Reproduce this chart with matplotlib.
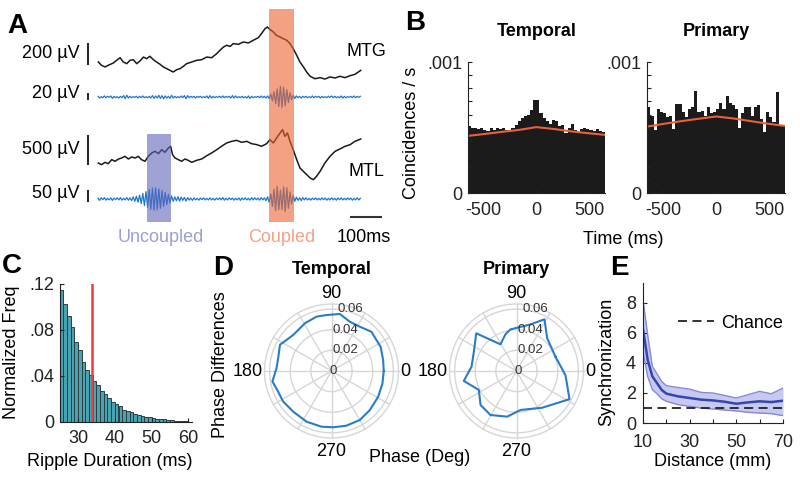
import numpy as np
import matplotlib
matplotlib.use("Agg")
import matplotlib.pyplot as plt
from matplotlib.patches import Rectangle

plt.rcParams['font.family'] = ['Liberation Sans', 'DejaVu Sans']
FS = 13

# ---------------- data ----------------
# Panel A: broadband traces (time in ms, amplitude in µV)
mtg_t = [1, 11, 22, 32, 48, 58, 69, 79, 90, 100, 110, 121, 131, 142, 152, 162, 173, 183, 194, 204,
         215, 225, 235, 246, 256, 267, 277, 293, 308, 324, 340, 355, 371, 381, 392, 402, 413, 423, 439, 454,
         470, 485, 501, 511, 522, 529, 538, 548, 558, 569, 579, 590, 600, 610, 621, 631, 642, 652, 663, 678,
         694, 709, 725, 741, 756, 772, 788, 803, 821]
mtg_uv = [0, -30, -45, -30, -9, 15, 39, 0, -15, 15, 21, -15, 9, 45, 30, 52, 21, 0, -21, -45,
          -61, -76, -91, -70, -61, -39, -15, 0, 15, 21, 45, 39, 76, 106, 136, 152, 142, 167, 161, 182,
          173, 197, 221, 258, 303, 318, 294, 273, 242, 227, 212, 197, 167, 121, 61, 0, -45, -91, -130, -152,
          -142, -155, -136, -145, -130, -142, -124, -112, -76]
mtl_t = [1, 11, 22, 32, 43, 53, 64, 74, 84, 95, 105, 116, 126, 136, 147, 157, 168, 178, 189, 199,
         209, 220, 227, 233, 241, 251, 261, 272, 282, 293, 308, 324, 340, 355, 371, 386, 402, 418, 433, 449,
         465, 480, 496, 511, 527, 537, 548, 558, 569, 577, 584, 592, 600, 610, 621, 631, 647, 663, 673, 683,
         694, 709, 725, 741, 756, 772, 788, 803, 821]
mtl_uv = [0, -28, 11, -11, 56, 28, 67, 83, 111, 67, 100, 83, 111, 56, 28, 111, 167, 195, 156, 222,
          178, 250, 278, 139, 83, 56, 28, 67, 44, 11, 44, 67, 122, 167, 222, 278, 334, 361, 378, 345,
          361, 322, 306, 278, 322, 389, 334, 417, 500, 556, 445, 500, 361, 222, 56, -83, -167, -250, -278, -222,
          -139, 0, 111, 195, 234, 278, 306, 361, 400]
# ripple-band traces, one sample every 5 ms
ripple_t = np.arange(0, 825, 5)
mtg_ripple_uv = [2, -3, 1, -2, 3, -2, 2, -1, 3, -4, 2, -2, 1, -3, 2, -2, 4, -5, 5, -3,
                 2, -2, 1, -1, 2, -3, 2, -2, 3, -2, 1, -2, 2, -3, 4, -4, 3, -3, 5, -4,
                 4, -5, 3, -3, 2, -4, 5, -3, 2, -2, 1, -2, 3, -2, 4, -5, 4, -2, 2, -1,
                 2, -3, 2, -1, 2, -2, 1, -2, 3, -4, 4, -3, 2, -2, 1, -1, 2, -2, 3, -2,
                 2, -1, 2, -3, 4, -3, 3, -2, 1, -2, 2, -2, 1, -3, 3, -4, 2, -2, 1, -1,
                 2, -2, 3, -2, 2, -3, 3,
                 -5, 8, -11, 15, -19, 23, -27, 30, -30, 28, -25, 21, -16, 12, -8, 5,
                 -4, 3, -2, 2, -3, 2, -1,
                 2, -2, 1, -2, 3, -2, 2, -1, 2, -3, 2, -2, 1, -2, 2, -1, 3, -2, 2, -2,
                 1, -2, 3, -3, 2, -2, 1, -1, 2, -2, 3, -2, 2, -1, 2]
mtl_ripple_uv = [4, -6, 5, -3, 6, -5, 3, -4, 5, -6, 4, -3, 5, -4, 6, -5, 3, -4, 6, -5,
                 5, -7, 9, -10, 12, -14, 17, -20, 24, -28, 32, -36, 40, -44, 47, -48, 48, -46, 43, -40,
                 36, -32, 28, -24, 20, -16, 13, -10, 9, -8,
                 10, -9, 8, -6, 7, -9, 6, -5, 4, -6, 5, -4, 3, -5, 4, -3, 5, -4, 3, -4,
                 5, -4, 3, -5, 4, -3, 5, -4, 6, -5, 3, -4, 5, -3, 4, -5, 3, -4, 5, -6,
                 4, -3, 5, -4, 3, -5, 6, -4, 5, -3,
                 4, -5, 6, -4, 5, -7, 9, -14, 22, -32, 42, -50, 54, -46, 38, -45, 52, -54, 48, -40,
                 30, -22, 15, -10, 8, -6, 5, -7, 6, -4,
                 5, -4, 3, -5, 4, -3, 5, -4, 3, -4, 5, -3, 4, -5, 3, -4, 5, -4, 3, -5,
                 4, -3, 5, -4, 3, -4, 5, -3, 4, -5, 3, -4, 5, -4, 3]
coupled_win = (535, 612)
uncoupled_win = (152, 228)

# Panel B: cross-correlograms (coincidences / s, x 1e-3), 44 bins over +-650 ms
ccg_edges = np.linspace(-650, 650, 45)
temporal_rate = [0.514, 0.496, 0.500, 0.488, 0.496, 0.483, 0.478, 0.496, 0.483, 0.500, 0.488, 0.500,
                 0.483, 0.470, 0.496, 0.520, 0.547, 0.572, 0.585, 0.598, 0.636, 0.712, 0.712, 0.610,
                 0.572, 0.547, 0.529, 0.560, 0.547, 0.514, 0.520, 0.462, 0.496, 0.529, 0.483, 0.470,
                 0.488, 0.496, 0.488, 0.483, 0.478, 0.488, 0.478, 0.470]
primary_rate = [0.660, 0.590, 0.480, 0.640, 0.620, 0.610, 0.580, 0.590, 0.490, 0.680, 0.680, 0.620,
                0.580, 0.645, 0.660, 0.780, 0.620, 0.630, 0.590, 0.660, 0.610, 0.620, 0.640, 0.690,
                0.645, 0.740, 0.690, 0.670, 0.645, 0.500, 0.610, 0.660, 0.660, 0.590, 0.660, 0.670,
                0.565, 0.465, 0.620, 0.580, 0.540, 0.770, 0.510, 0.510]
shuffle_t = [-650, -487.5, -325, -162.5, 0, 162.5, 325, 487.5, 650]
temporal_shuffle = [0.437, 0.452, 0.468, 0.483, 0.504, 0.490, 0.472, 0.458, 0.445]
primary_shuffle = [0.508, 0.530, 0.550, 0.568, 0.585, 0.570, 0.550, 0.530, 0.513]

# Panel C: ripple-duration histogram (1-ms bins starting at 25 ms)
dur_left = np.arange(25, 60)
dur_freq = [0.115, 0.1028, 0.0923, 0.0824, 0.0699, 0.0624, 0.0519, 0.0452, 0.0408, 0.0356,
            0.032, 0.0268, 0.024, 0.021, 0.0175, 0.016, 0.0137, 0.0108, 0.010, 0.0087,
            0.0073, 0.006, 0.0054, 0.0045, 0.004, 0.0035, 0.003, 0.0024, 0.0022, 0.002,
            0.0015, 0.0013, 0.0012, 0.001, 0.001]
dur_cut = 33.9

# Panel D: phase-difference distributions
temporal_phase = [0, 12, 26, 44.5, 57.4, 69.6, 81.7, 95, 105.4, 119, 136.8, 153, 166.6, 177, 190,
                  201, 212, 226.7, 244, 259.8, 271.7, 285, 300, 314.5, 331, 346]
temporal_prob = [0.0507, 0.0512, 0.0531, 0.0543, 0.051, 0.051, 0.0559, 0.0545, 0.0547, 0.053, 0.051,
                 0.0561, 0.0532, 0.0534, 0.0582, 0.0555, 0.0555, 0.0542, 0.0548, 0.0549, 0.0546,
                 0.055, 0.0549, 0.0531, 0.0517, 0.0509]
primary_phase = [20, 46.8, 61.6, 73.3, 98.2, 106.7, 121, 136.9, 155.7, 174.5, 190.7, 206.7, 223.4,
                 239.4, 258.5, 275.9, 305, 332, 344.5, 355]
primary_prob = [0.0403, 0.0435, 0.0570, 0.0472, 0.0408, 0.0372, 0.0302, 0.0535, 0.0454, 0.0438,
                0.052, 0.0409, 0.048, 0.0496, 0.0452, 0.038, 0.0435, 0.0582, 0.051, 0.0477]

# Panel E: synchronization vs distance
dist_mm = [10, 12, 14, 16, 18, 20, 25, 30, 35, 40, 45, 50, 55, 60, 65, 70]
sync_mean = [6.23, 4.2, 3.1, 2.65, 2.2, 1.95, 1.77, 1.66, 1.55, 1.5, 1.41, 1.28, 1.37, 1.44, 1.39, 1.48]
sync_hi = [8.18, 5.86, 3.76, 3.27, 2.76, 2.48, 2.36, 2.25, 2.03, 1.99, 1.83, 1.66, 1.88, 2.1, 1.94, 2.32]
sync_lo = [4.75, 3.09, 2.21, 1.94, 1.61, 1.44, 1.22, 1.1, 0.99, 0.93, 0.86, 0.8, 0.71, 0.66, 0.62, 0.49]
chance_level = 1.0

# ---------------- figure ----------------
W, H = 800, 479
fig = plt.figure(figsize=(8, 4.79), dpi=100)


def add_px(x0, y0, x1, y1, **kw):
    return fig.add_axes([x0 / W, 1 - y1 / H, (x1 - x0) / W, (y1 - y0) / H], **kw)


def ftext(x, y, s, **kw):
    kw.setdefault('fontsize', FS)
    return fig.text(x / W, 1 - y / H, s, **kw)


def letter(x, y, s):
    ftext(x, y, s, fontsize=20, fontweight='bold', va='baseline', ha='left')


def style_axes(ax):
    for side in ('top', 'right'):
        ax.spines[side].set_visible(False)
    for side in ('left', 'bottom'):
        ax.spines[side].set_linewidth(0.8)
        ax.spines[side].set_color('#222222')
    ax.tick_params(direction='in', length=3, width=0.8, labelsize=FS, colors='#222222', pad=4)


# ---- Panel A ----
axA = add_px(0, 0, 400, 250)
axA.set_xlim((0 - 98) / 0.32, (400 - 98) / 0.32)
axA.set_ylim(250, 0)
axA.set_axis_off()
black = '#1a1a1a'
blue = '#1f78cc'
g_mtg, g_mtg_r, g_mtl, g_mtl_r = 0.11, 0.35, 0.06, 0.233
off_mtg, off_mtg_r, off_mtl, off_mtl_r = 62, 97, 163, 199
axA.plot(mtg_t, off_mtg - np.array(mtg_uv) * g_mtg, color=black, lw=1.1)
axA.plot(ripple_t, off_mtg_r - np.array(mtg_ripple_uv) * g_mtg_r, color=blue, lw=0.9)
axA.plot(mtl_t, off_mtl - np.array(mtl_uv) * g_mtl, color=black, lw=1.1)
axA.plot(ripple_t, off_mtl_r - np.array(mtl_ripple_uv) * g_mtl_r, color=blue, lw=0.9)
axA.add_patch(Rectangle((coupled_win[0], 9), coupled_win[1] - coupled_win[0], 213,
                        facecolor='#ed6130', alpha=0.6, edgecolor='none', zorder=3))
axA.add_patch(Rectangle((uncoupled_win[0], 134), uncoupled_win[1] - uncoupled_win[0], 88,
                        facecolor='#6164bb', alpha=0.6, edgecolor='none', zorder=3))
bar_t = (88 - 98) / 0.32
for cy, val, g in [(54, 200, g_mtg), (96.5, 20, g_mtg_r), (150, 500, g_mtl), (196, 50, g_mtl_r)]:
    axA.plot([bar_t, bar_t], [cy - val * g / 2, cy + val * g / 2], color='#222222', lw=1.4,
             solid_capstyle='butt')
axA.plot([787.5, 887.5], [217, 217], color='#333333', lw=1.5, solid_capstyle='butt')
ftext(80, 54, '200 µV', ha='right', va='center')
ftext(80, 94, '20 µV', ha='right', va='center')
ftext(80, 149, '500 µV', ha='right', va='center')
ftext(80, 194, '50 µV', ha='right', va='center')
ftext(347, 52, 'MTG', ha='left', va='center')
ftext(348, 172, 'MTL', ha='left', va='center')
ftext(161, 237, 'Uncoupled', ha='center', va='center', color='#9c9ed8')
ftext(282, 237, 'Coupled', ha='center', va='center', color='#f4a184')
ftext(364, 237, '100ms', ha='center', va='center')
letter(7, 33, 'A')

# ---- Panel B ----
for (x0, x1, rate, shuf, title) in [(467.7, 605, temporal_rate, temporal_shuffle, 'Temporal'),
                                    (647.3, 785, primary_rate, primary_shuffle, 'Primary')]:
    ax = add_px(x0, 62, x1, 193.3)
    ax.stairs(np.array(rate) * 1e-3, ccg_edges, fill=True, color='#1b1b1b', lw=0)
    ax.plot(shuffle_t, np.array(shuf) * 1e-3, color='#e8603c', lw=1.5)
    ax.set_xlim(-650, 650)
    ax.set_ylim(0, 0.001)
    style_axes(ax)
    ax.set_xticks([-500, 0, 500])
    ax.set_xticklabels(['-500', '0', '500'])
    ax.set_yticks(np.arange(11) * 1e-4)
    ax.set_yticklabels(['0'] + [''] * 9 + ['.001'])
    ax.tick_params(axis='x', pad=6)
    ftext((x0 + x1) / 2, 31, title, ha='center', va='center', fontweight='bold')
ftext(412, 133, 'Coincidences / s', rotation=90, ha='center', va='center')
ftext(623, 240, 'Time (ms)', ha='center', va='center')
letter(405, 30, 'B')

# ---- Panel C ----
axC = add_px(59.7, 284, 192, 422)
axC.bar(dur_left, dur_freq, width=1.0, align='edge', color='#48a3b3', edgecolor='#2e3d42', lw=0.7)
axC.plot([dur_cut, dur_cut], [0, 0.12], color='#f03c3c', lw=1.8)
axC.set_xlim(25, 61)
axC.set_ylim(0, 0.12)
style_axes(axC)
axC.set_xticks([30, 40, 50, 60])
axC.set_yticks([0, 0.04, 0.08, 0.12])
axC.set_yticklabels(['0', '.04', '.08', '.12'])
axC.tick_params(axis='x', pad=6)
ftext(12, 352, 'Normalized Freq', rotation=90, ha='center', va='center')
ftext(110, 461, 'Ripple Duration (ms)', ha='center', va='center')
letter(2, 273, 'C')

# ---- Panel D ----
RMAX = 0.065
RAD = 67
grid_c = '#d6d6d6'
circ = np.linspace(0, 2 * np.pi, 361)
for (cx, cy, ph, pr, title) in [(331.5, 371, temporal_phase, temporal_prob, 'Temporal'),
                                (516.5, 371, primary_phase, primary_prob, 'Primary')]:
    ax = add_px(cx - RAD, cy - RAD, cx + RAD, cy + RAD, projection='polar')
    ax.set_ylim(0, RMAX)
    ax.set_axis_off()
    for r in [0.02, 0.04, 0.06, RMAX]:
        ax.plot(circ, np.full_like(circ, r), color=grid_c, lw=1.0, clip_on=False, zorder=1)
    for a in range(0, 360, 30):
        ax.plot([np.deg2rad(a)] * 2, [0, RMAX], color=grid_c, lw=1.0, clip_on=False, zorder=1)
    th = np.deg2rad(np.r_[ph, ph[0]])
    rr = np.r_[pr, pr[0]]
    ax.plot(th, rr, color='#2a7cc7', lw=1.5, clip_on=False, zorder=3)
    for r, lab in [(0, '0'), (0.02, '0.02'), (0.04, '0.04'), (0.06, '0.06')]:
        ftext(cx + 1 + (5 if r == 0.06 else 0) - (3 if r == 0 else 0), cy - r / RMAX * RAD, lab,
              ha='left', va='center', fontsize=9.5, color='#333333', zorder=4)
    ftext(cx, cy - 78, '90', ha='center', va='center')
    ftext(cx, cy + 80, '270', ha='center', va='center')
    ftext(cx + RAD + 2, cy, '0', ha='left', va='center')
    ftext(cx - RAD - 2, cy, '180', ha='right', va='center')
    ftext(cx, 270, title, ha='center', va='center', fontweight='bold')
ftext(220, 365, 'Phase Differences', rotation=90, ha='center', va='center')
ftext(420, 458, 'Phase (Deg)', ha='center', va='center')
letter(213, 275, 'D')

# ---- Panel E ----
axE = add_px(643, 283, 783, 423)
axE.fill_between(dist_mm, sync_lo, sync_hi, color='#c8c9f0', lw=0)
axE.plot(dist_mm, sync_hi, color='#8589d8', lw=1.0)
axE.plot(dist_mm, sync_lo, color='#8589d8', lw=1.0)
axE.plot(dist_mm, sync_mean, color='#3446b0', lw=1.8)
axE.axhline(chance_level, color='#222222', lw=1.3, dashes=(5, 3), label='Chance')
axE.set_xlim(10, 70)
axE.set_ylim(0, 9.3)
style_axes(axE)
axE.set_xticks(np.arange(10, 71, 10))
axE.set_xticklabels(['10', '', '30', '', '50', '', '70'])
axE.set_yticks([0, 2, 4, 6, 8])
axE.tick_params(axis='x', pad=8)
axE.tick_params(axis='y', pad=5)
axE.legend(loc='center right', bbox_to_anchor=(1.0, (423 - 323) / 140), frameon=False,
           fontsize=FS, handlelength=2.0, handletextpad=0.4, borderpad=0, borderaxespad=0)
ftext(607, 362, 'Synchronization', rotation=90, ha='center', va='center')
ftext(713, 462, 'Distance (mm)', ha='center', va='center')
letter(610, 275, 'E')

fig.savefig('out.png', dpi=100)
